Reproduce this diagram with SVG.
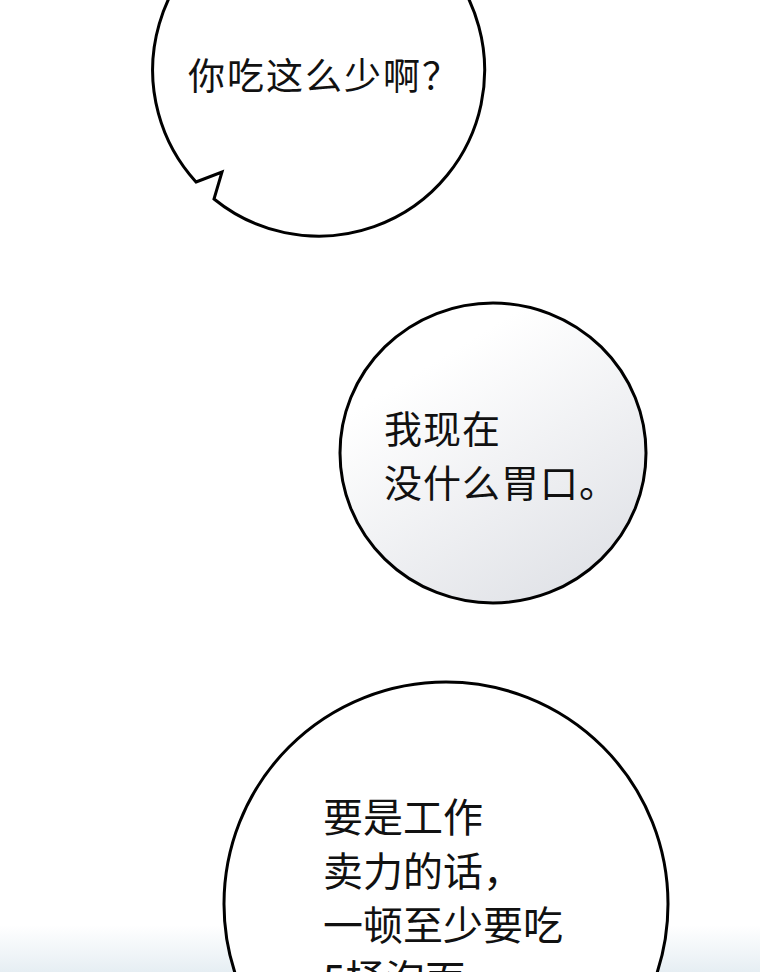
<svg xmlns="http://www.w3.org/2000/svg" width="760" height="972" viewBox="0 0 760 972">
<style>
.b{stroke:#000;stroke-width:3;}
.t{font-family:"Noto Sans CJK SC","Liberation Sans",sans-serif;fill:#111;}
</style>
<defs>
<linearGradient id="g2" x1="0.3" y1="0.2" x2="0.8" y2="1"><stop offset="0" stop-color="#fff"/><stop offset="1" stop-color="#dfe1e6"/></linearGradient>
<linearGradient id="bg" x1="0" y1="0" x2="0" y2="1"><stop offset="0" stop-color="#fff"/><stop offset="1" stop-color="#e6eef3"/></linearGradient>
</defs>
<rect width="760" height="972" fill="#fff"/>
<rect y="925" width="760" height="47" fill="url(#bg)"/>
<g id="bubble1">
<path class="b" fill="#fff" d="M196,182 L222,172 L214,199 A166,166 0 1 0 196,182 Z"/>
<text class="t" x="188" y="90" font-size="37" letter-spacing="2">你吃这么少啊？</text>
</g>
<g id="bubble2">
<ellipse class="b" fill="url(#g2)" cx="493" cy="453" rx="153" ry="150"/>
<text class="t" x="384" y="443" font-size="38" letter-spacing="1">我现在</text>
<text class="t" x="384" y="497" font-size="38" letter-spacing="1">没什么胃口。</text>
</g>
<g id="bubble3">
<circle class="b" fill="#fff" cx="446" cy="904" r="222"/>
<text class="t" x="323" y="832" font-size="40">要是工作</text>
<text class="t" x="323" y="886" font-size="40">卖力的话，</text>
<text class="t" x="323" y="940" font-size="40">一顿至少要吃</text>
<text class="t" x="323" y="994" font-size="40">5桶泡面</text>
</g>
<g id="connectors"/>
</svg>
